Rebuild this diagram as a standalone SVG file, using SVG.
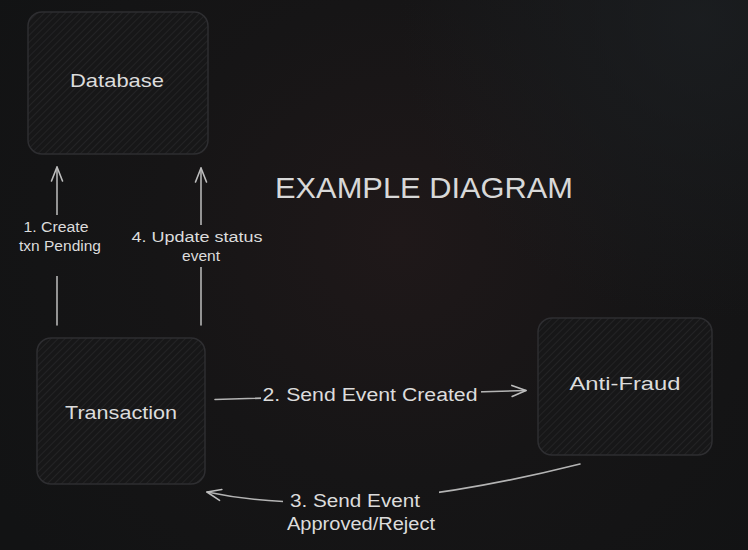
<svg xmlns="http://www.w3.org/2000/svg" width="748" height="550" viewBox="0 0 748 550">
  <defs>
    <radialGradient id="bg" cx="400" cy="240" r="480" gradientUnits="userSpaceOnUse">
      <stop offset="0" stop-color="#1f1819"/>
      <stop offset="0.5" stop-color="#161516"/>
      <stop offset="1" stop-color="#121314"/>
    </radialGradient>
    <radialGradient id="bg2" cx="700" cy="20" r="300" gradientUnits="userSpaceOnUse">
      <stop offset="0" stop-color="#1c1f22" stop-opacity="0.8"/>
      <stop offset="1" stop-color="#1c1f22" stop-opacity="0"/>
    </radialGradient>
    <pattern id="hatch" width="5" height="5" patternUnits="userSpaceOnUse" patternTransform="rotate(45)">
      <line x1="0" y1="0" x2="0" y2="5" stroke="#2b2b2d" stroke-width="1.2"/>
    </pattern>
    <marker id="head" markerWidth="18" markerHeight="14" refX="15" refY="7" orient="auto" markerUnits="userSpaceOnUse">
      <path d="M1,1.5 L15,7 L1,12.5" fill="none" stroke="#bdbdbd" stroke-width="1.6" stroke-linecap="round" stroke-linejoin="round"/>
    </marker>
    <mask id="m3" maskUnits="userSpaceOnUse" x="0" y="0" width="748" height="550">
      <rect x="0" y="0" width="748" height="550" fill="#fff"/>
      <rect x="283" y="480" width="156" height="60" fill="#000"/>
    </mask>
    <mask id="m2" maskUnits="userSpaceOnUse" x="0" y="0" width="748" height="550">
      <rect x="0" y="0" width="748" height="550" fill="#fff"/>
      <rect x="261" y="380" width="220" height="30" fill="#000"/>
    </mask>
    <mask id="m1" maskUnits="userSpaceOnUse" x="0" y="0" width="748" height="550">
      <rect x="0" y="0" width="748" height="550" fill="#fff"/>
      <rect x="10" y="215" width="100" height="61" fill="#000"/>
      <rect x="125" y="225" width="150" height="42" fill="#000"/>
    </mask>
  </defs>
  <style>
    .box { fill: url(#hatch); stroke: #2e2e31; stroke-width: 1.5; }
    .boxbg { fill: #171718; }
    .lbl { font-family: "Liberation Sans", "DejaVu Sans", sans-serif; fill: #dcdcdc; text-anchor: middle; }
    .node { font-size: 19px; }
    .edge { font-size: 18px; }
    .small { font-size: 14px; }
    .title { font-size: 29px; fill: #d8d8d8; }
    .conn { fill: none; stroke: #b4b4b4; stroke-width: 1.6; stroke-linecap: round; }
  </style>
  <rect width="748" height="550" fill="url(#bg)"/>
  <rect width="748" height="550" fill="url(#bg2)"/>

  <text class="lbl title" x="424" y="198" textLength="298" lengthAdjust="spacingAndGlyphs">EXAMPLE DIAGRAM</text>

  <g id="database">
    <rect class="boxbg" x="28" y="12" width="180" height="142" rx="14"/>
    <rect class="box" x="28" y="12" width="180" height="142" rx="14"/>
    <text class="lbl node" x="117" y="87" textLength="94" lengthAdjust="spacingAndGlyphs">Database</text>
  </g>
  <g id="transaction">
    <rect class="boxbg" x="37" y="338" width="168" height="146" rx="14"/>
    <rect class="box" x="37" y="338" width="168" height="146" rx="14"/>
    <text class="lbl node" x="121" y="419" textLength="112" lengthAdjust="spacingAndGlyphs">Transaction</text>
  </g>
  <g id="antifraud">
    <rect class="boxbg" x="538" y="318" width="174" height="137" rx="14"/>
    <rect class="box" x="538" y="318" width="174" height="137" rx="14"/>
    <text class="lbl node" x="625" y="390" textLength="111" lengthAdjust="spacingAndGlyphs">Anti-Fraud</text>
  </g>

  <g id="connectors">
    <path class="conn" d="M57,325 L57,167" marker-end="url(#head)" mask="url(#m1)"/>
    <path class="conn" d="M201,325 L201,168" marker-end="url(#head)" mask="url(#m1)"/>
    <path class="conn" d="M215,399.5 L526,390.5" marker-end="url(#head)" mask="url(#m2)"/>
    <path class="conn" d="M580,464 Q348,522 207,492" marker-end="url(#head)" mask="url(#m3)"/>
  </g>

  <g id="labels">
    <text class="lbl small" x="56" y="232" textLength="65" lengthAdjust="spacingAndGlyphs">1. Create</text>
    <text class="lbl small" x="60" y="251" textLength="82" lengthAdjust="spacingAndGlyphs">txn Pending</text>
    <text class="lbl small" x="197" y="242" textLength="131" lengthAdjust="spacingAndGlyphs">4. Update status</text>
    <text class="lbl small" x="201" y="261" textLength="38" lengthAdjust="spacingAndGlyphs">event</text>
    <text class="lbl edge" x="370" y="401" textLength="215" lengthAdjust="spacingAndGlyphs">2. Send Event Created</text>
    <text class="lbl edge" x="355" y="507" textLength="130" lengthAdjust="spacingAndGlyphs">3. Send Event</text>
    <text class="lbl edge" x="361" y="530" textLength="148" lengthAdjust="spacingAndGlyphs">Approved/Reject</text>
  </g>
</svg>
